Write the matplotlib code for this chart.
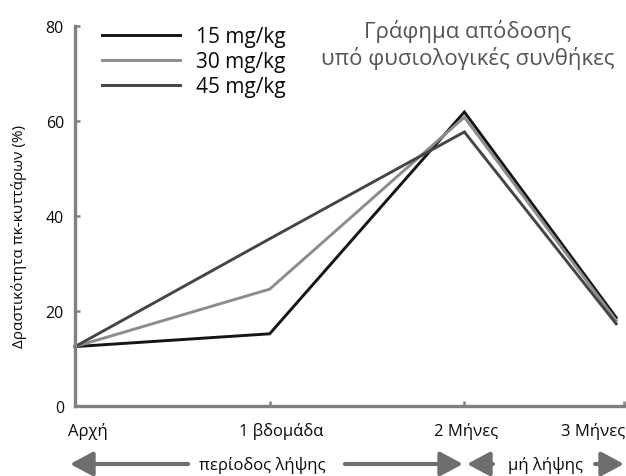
import matplotlib
matplotlib.use("Agg")
import matplotlib.pyplot as plt
from matplotlib.patches import FancyArrowPatch

plt.rcParams['font.family'] = ['Open Sans', 'DejaVu Sans']

# ---- data ----
categories = ["Αρχή", "1 βδομάδα", "2 Μήνες", "3 Μήνες"]
x_pos = [0, 1, 2, 2.78]
series_names = ["15 mg/kg", "30 mg/kg", "45 mg/kg"]
s15 = [12.5, 15.2, 61.9, 18.6]
s30 = [12.5, 24.6, 60.8, 18.0]
s45 = [12.5, 35.2, 57.7, 17.3]
y_ticks = [0, 20, 40, 60, 80]
y_label = "Δραστικότητα πκ-κυττάρων (%)"
title_lines = "Γράφημα απόδοσης\nυπό φυσιολογικές συνθήκες"
period1 = "περίοδος λήψης"
period2 = "μή λήψης"

colors = ["#151515", "#8c8c8c", "#454545"]
spine_col = "#808080"
txt_col = "#0a0a0a"

W, H = 626, 477
fig = plt.figure(figsize=(W / 100, H / 100), dpi=100)
ax = fig.add_axes([75 / W, (H - 407) / H, (624 - 75) / W, (407 - 27) / H])

for vals, c, name in zip([s15, s30, s45], colors, series_names):
    ax.plot(x_pos, vals, color=c, lw=2.1, label=name, clip_on=False,
            solid_joinstyle='miter')

ax.set_xlim(0, 2.82)
ax.set_ylim(0, 80)
for s in ["top", "right"]:
    ax.spines[s].set_visible(False)
for s in ["left", "bottom"]:
    ax.spines[s].set_color(spine_col)
    ax.spines[s].set_linewidth(2.4)

ax.set_yticks(y_ticks)
ax.tick_params(axis='y', direction='in', length=3.5, width=1.8, color=spine_col,
               labelsize=11.5, pad=8, labelcolor=txt_col)
ax.set_xticks([1, 2, 2.82])
ax.set_xticklabels([])
ax.tick_params(axis='x', direction='in', length=3.5, width=1.8, color=spine_col)

# x category labels
lab_x = [0 - 0.035, 1.06, 2.01, 2.825]
has = ["left", "center", "center", "right"]
for lx, lab, ha in zip(lab_x, categories, has):
    ax.text(lx, -5.2, lab, ha=ha, va='center', fontsize=12, color=txt_col)

ax.set_ylabel(y_label, fontsize=11, color=txt_col)
ax.yaxis.set_label_coords(-0.088, 0.45)

leg = ax.legend(loc='upper left', bbox_to_anchor=(0.05, 1.0), frameon=False,
                prop={'size': 15}, handlelength=3.7,
                handletextpad=0.8, labelspacing=0.2, borderpad=0, borderaxespad=0)
for t in leg.get_texts():
    t.set_color(txt_col)

fig.text(468 / W, 1 - 45 / H, title_lines, ha='center', va='center',
         fontsize=16, color="#555555", linespacing=1.2)

# bottom period arrows (figure pixel coords)
arrow_col = "#6e6e6e"
def arrow(x0, x1, y=465):
    p = FancyArrowPatch((x0 / W, 1 - y / H), (x1 / W, 1 - y / H),
                        transform=fig.transFigure, arrowstyle='-|>,head_length=6,head_width=3.2',
                        color=arrow_col, lw=3, mutation_scale=2.3, shrinkA=0, shrinkB=0)
    fig.add_artist(p)

arrow(188, 70)
arrow(345, 463)
arrow(493, 467)
arrow(595, 624)
fig.text(262 / W, 1 - 466 / H, period1, ha='center', va='center', fontsize=12, color=txt_col)
fig.text(545 / W, 1 - 466 / H, period2, ha='center', va='center', fontsize=12, color=txt_col)

fig.savefig("out.png", dpi=100)
